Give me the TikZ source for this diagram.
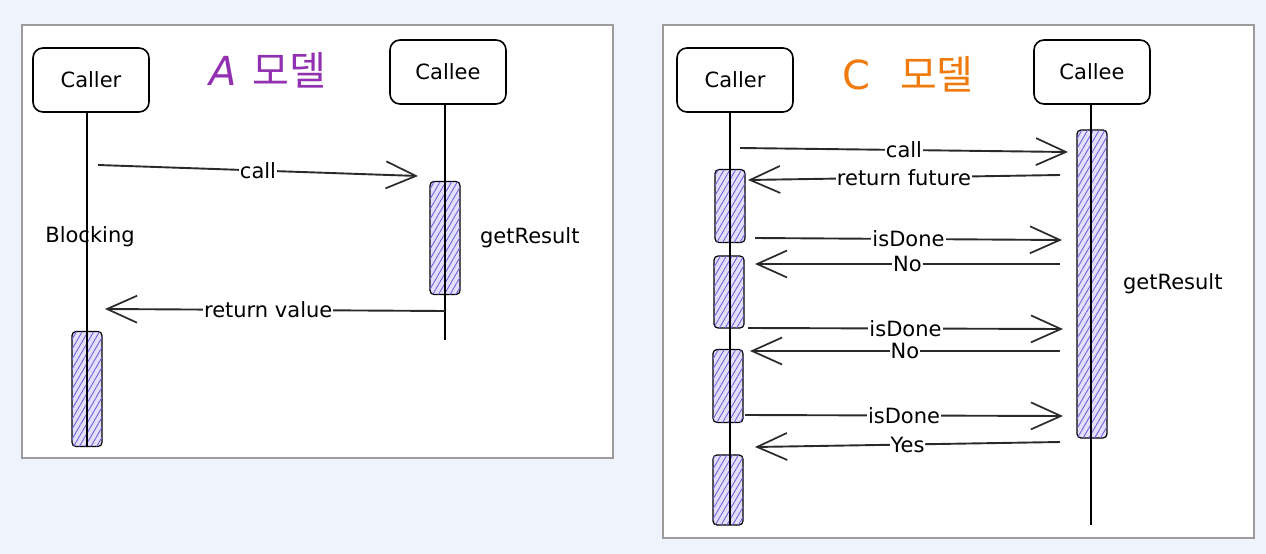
\documentclass[tikz,border=0pt]{standalone}
\usepackage{fontspec}
\setmainfont{DejaVu Sans}
\newfontfamily\krfont{Noto Sans CJK KR}
\usetikzlibrary{positioning,arrows.meta,patterns.meta}
\definecolor{pagebg}{HTML}{EEF3FC}
\definecolor{panelgray}{HTML}{9C9C9C}
\definecolor{barfill}{HTML}{E4E0FB}
\definecolor{hatchblue}{HTML}{6F62DD}
\definecolor{amodel}{HTML}{9130B0}
\definecolor{cmodel}{HTML}{F07A0C}
\definecolor{msgcol}{HTML}{2A2A2A}
\tikzset{
	panel/.style = {draw = panelgray, line width = 1.4pt, fill = white},
	actor/.style = {draw, line width = 1.6pt, rounded corners = 10pt, minimum width = 116pt, minimum height = 64pt, font = \fontsize{21}{21}\selectfont},
	activebar/.style = {draw, line width = 1.2pt, rounded corners = 4pt, minimum width = 30pt, fill = barfill,
		postaction = {pattern = {Lines[angle = 60, distance = 5pt, line width = 0.9pt]}, pattern color = hatchblue}},
	lifeline/.style = {line width = 1.5pt},
	msg/.style = {draw = msgcol, line width = 1.9pt, -{Straight Barb[length = 30pt, width = 27pt, line width = 1.7pt]}},
	lbl/.style = {fill = white, inner sep = 1pt, font = \fontsize{21}{21}\selectfont},
	note/.style = {font = \fontsize{21}{21}\selectfont},
	heading/.style = {font = \fontsize{40}{40}\selectfont}
}
\begin{document}
\begin{tikzpicture}[x = 1pt, y = -1pt]

	\fill[pagebg] (0,0) rectangle (1266,554);
	\useasboundingbox (0,0) rectangle (1266,554);

	\begin{scope}
		\draw[panel] (22,25) rectangle (613,458);

		\node[actor] (acaller) at (91,80) {Caller};
		\node[actor] (acallee) at (448,72) {Callee};
		\node[heading, text = amodel] (atitle) at (268,70) {\textit{A}\hspace{16pt}{\krfont 모델}};

		\node[activebar, minimum height = 113pt] (abarB) at (445,238) {};
		\node[activebar, minimum height = 115pt] (abarA) at (87,389) {};

		\coordinate (aend1) at (87,447);
		\coordinate (aend2) at (445,340);
		\draw[lifeline] (acaller.south -| aend1) -- (aend1);
		\draw[lifeline] (acallee.south -| aend2) -- (aend2);

		\coordinate (acall1) at (98,165);
		\coordinate (acall2) at (418,176);
		\coordinate (aret1) at (445,311);
		\coordinate (aret2) at (105,309);
		\draw[msg] (acall1) -- node[lbl] {call} (acall2);
		\draw[msg] (aret1) -- node[lbl, pos = 0.52] {return value} (aret2);

		\node[note] (ablock) at (90,237) {Blocking};
		\node[note, right = 16pt of abarB] (aresult) {getResult};
	\end{scope}

	\begin{scope}
		\draw[panel] (663,25) rectangle (1254,538);

		\node[actor] (ccaller) at (735,80) {Caller};
		\node[actor] (ccallee) at (1092,72) {Callee};
		\node[heading, text = cmodel] (ctitle) at (908,74) {C\hspace{30pt}{\krfont 모델}};

		\node[activebar, minimum height = 308pt] (cbarB) at (1092,284) {};
		\node[activebar, minimum height = 73pt] (cbar1) at (730,206) {};
		\node[activebar, minimum height = 72pt] (cbar2) at (729,292) {};
		\node[activebar, minimum height = 73pt] (cbar3) at (728,386) {};
		\node[activebar, minimum height = 70pt] (cbar4) at (728,490) {};

		\coordinate (cend1) at (730,525);
		\coordinate (cend2) at (1091,525);
		\draw[lifeline] (ccaller.south -| cend1) -- (cend1);
		\draw[lifeline] (ccallee.south -| cend2) -- (cend2);

		\coordinate (ccall1) at (740,148);
		\coordinate (ccall2) at (1068,152);
		\coordinate (cfut1) at (1060,175);
		\coordinate (cfut2) at (748,180);
		\coordinate (cask1a) at (755,238);
		\coordinate (cask1b) at (1062,240);
		\coordinate (cno1a) at (1060,264);
		\coordinate (cno1b) at (755,264);
		\coordinate (cask2a) at (748,328);
		\coordinate (cask2b) at (1063,329);
		\coordinate (cno2a) at (1060,351);
		\coordinate (cno2b) at (750,351);
		\coordinate (cask3a) at (745,415);
		\coordinate (cask3b) at (1063,416);
		\coordinate (cyesa) at (1060,442);
		\coordinate (cyesb) at (755,447);

		\draw[msg] (ccall1) -- node[lbl] {call} (ccall2);
		\draw[msg] (cfut1) -- node[lbl, pos = 0.5] {return future} (cfut2);
		\draw[msg] (cask1a) -- node[lbl] {isDone} (cask1b);
		\draw[msg] (cno1a) -- node[lbl] {No} (cno1b);
		\draw[msg] (cask2a) -- node[lbl] {isDone} (cask2b);
		\draw[msg] (cno2a) -- node[lbl] {No} (cno2b);
		\draw[msg] (cask3a) -- node[lbl] {isDone} (cask3b);
		\draw[msg] (cyesa) -- node[lbl] {Yes} (cyesb);

		\node[note, right = 12pt of cbarB] (cresult) {getResult};
	\end{scope}

\end{tikzpicture}
\end{document}
